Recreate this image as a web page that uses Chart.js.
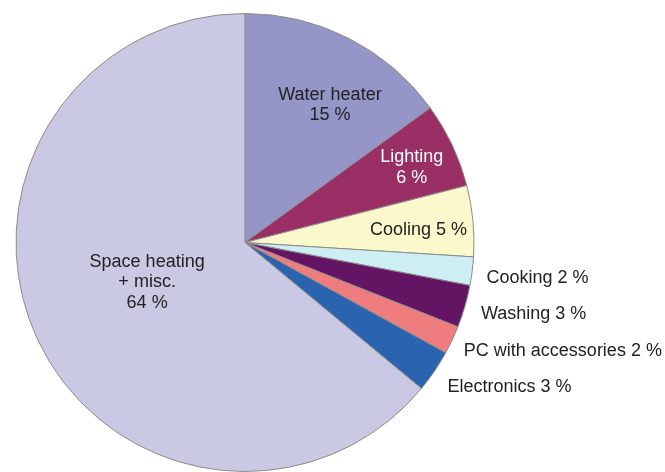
<!DOCTYPE html>
<html>
<head>
<meta charset="utf-8">
<title>Household electricity use</title>
<script src="https://cdn.jsdelivr.net/npm/chart.js@4.4.1/dist/chart.umd.min.js"></script>
<style>
  html, body { margin: 0; padding: 0; background: #fff; }
  #wrap { width: 665px; height: 472px; }
</style>
</head>
<body>
<div id="wrap"><canvas id="useChart" width="665" height="472"></canvas></div>
<script>
// Shares of household electricity use, clockwise from 12 o'clock
const categories = ['Water heater', 'Lighting', 'Cooling', 'Cooking', 'Washing', 'PC with accessories', 'Electronics', 'Space heating + misc.'];
const shares = [15, 6, 5, 2, 3, 2, 3, 64];
const sliceColors = ['#9595c8', '#992f64', '#fbf8cb', '#cdeef3', '#631563', '#ef7d7d', '#2a63ae', '#cac9e3'];

// label text per slice (lines), and how each one is placed
const labelLines = [
    ['Water heater', '15 %'],
    ['Lighting', '6 %'],
    ['Cooling 5 %'],
    ['Cooking 2 %'],
    ['Washing 3 %'],
    ['PC with accessories 2 %'],
    ['Electronics 3 %'],
    ['Space heating', '+ misc.', '64 %']
];
// r = fraction of the radius, da = nudge off the slice's middle angle (degrees)
const labelStyle = [
    { r: 0.71, da: 4.5, color: '#222', outside: false },
    { r: 0.80, da: 0.7, color: '#fff', outside: false },
    { r: 0.76, da: 0.8, color: '#222', outside: false },
    { r: 1.065, da: 1.0, color: '#222', outside: true },
    { r: 1.075, da: 0.4, color: '#222', outside: true },
    { r: 1.065, da: 1.0, color: '#222', outside: true },
    { r: 1.085, da: 1.2, color: '#222', outside: true },
    { r: 0.46, da: 3.5, color: '#222', outside: false }
];

const sliceLabels = {
    id: 'sliceLabels',
    afterDatasetsDraw(chart) {
        const ctx = chart.ctx;
        const arcs = chart.getDatasetMeta(0).data;
        ctx.save();
        ctx.font = '18px "Liberation Sans", Arial, sans-serif';
        ctx.textBaseline = 'middle';
        const lineH = 20.5;
        arcs.forEach((arc, i) => {
            const p = arc.getProps(['x', 'y', 'startAngle', 'endAngle', 'outerRadius'], true);
            const st = labelStyle[i];
            const mid = (p.startAngle + p.endAngle) / 2 + st.da * Math.PI / 180;
            const lx = p.x + Math.cos(mid) * p.outerRadius * st.r;
            const ly = p.y + Math.sin(mid) * p.outerRadius * st.r;
            const lines = labelLines[i];
            ctx.fillStyle = st.color;
            ctx.textAlign = st.outside ? 'left' : 'center';
            const top = ly - (lines.length - 1) * lineH / 2 + 1;
            lines.forEach((t, k) => ctx.fillText(t, lx, top + k * lineH));
        });
        ctx.restore();
    }
};

new Chart(document.getElementById('useChart'), {
    type: 'pie',
    data: {
        labels: categories,
        datasets: [{
            data: shares,
            backgroundColor: sliceColors,
            borderColor: '#8c8c8c',
            borderWidth: 1
        }]
    },
    options: {
        responsive: false,
        animation: false,
        layout: { padding: { left: 15, right: 190, top: 13, bottom: 0 } },
        plugins: {
            legend: { display: false },
            tooltip: { enabled: false }
        }
    },
    plugins: [sliceLabels]
});
</script>
</body>
</html>
